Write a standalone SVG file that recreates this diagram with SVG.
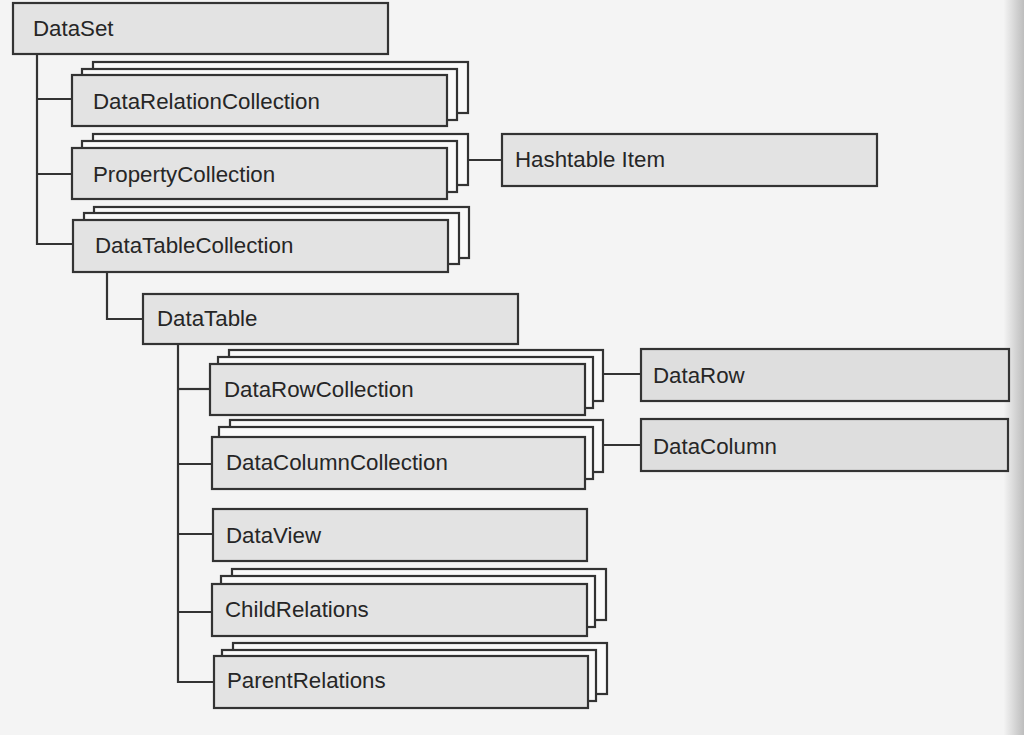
<svg xmlns="http://www.w3.org/2000/svg" width="1024" height="735" viewBox="0 0 1024 735">
  <defs>
    <linearGradient id="edge" x1="0" y1="0" x2="1" y2="0">
      <stop offset="0" stop-color="#f3f3f3"/>
      <stop offset="1" stop-color="#bdbdbd"/>
    </linearGradient>
    <style>
      .front { fill: #e3e3e3; stroke: #333; stroke-width: 2.2; }
      .leaf { fill: #dedede; stroke: #333; stroke-width: 2.2; }
      .back { fill: #fafafa; stroke: #333; stroke-width: 2.2; }
      .lbl { font-family: "Liberation Sans", Arial, sans-serif; font-size: 22.3px; fill: #262626; }
      .conn line, .conn polyline { fill: none; stroke: #333; stroke-width: 2.2; }
    </style>
  </defs>
  <rect x="0" y="0" width="1024" height="735" fill="#f4f4f4"/>
  <rect x="1004" y="0" width="20" height="735" fill="url(#edge)"/>

  <g id="connectors" class="conn">
    <polyline points="37,54 37,244 73,244"/>
    <line x1="37" y1="99" x2="72" y2="99"/>
    <line x1="37" y1="174" x2="72" y2="174"/>
    <line x1="467" y1="160" x2="502" y2="160"/>
    <polyline points="107,272 107,319 143,319"/>
    <polyline points="178,344 178,682 214,682"/>
    <line x1="178" y1="389" x2="210" y2="389"/>
    <line x1="178" y1="464" x2="212" y2="464"/>
    <line x1="178" y1="534" x2="213" y2="534"/>
    <line x1="178" y1="612" x2="212" y2="612"/>
    <line x1="603" y1="374" x2="641" y2="374"/>
    <line x1="603" y1="445" x2="641" y2="445"/>
  </g>

  <g id="DataSet">
    <rect class="front" x="13" y="3" width="375" height="51"/>
    <text class="lbl" x="33" y="36">DataSet</text>
  </g>

  <g id="DataRelationCollection">
    <rect class="back" x="93" y="62" width="375" height="51"/>
    <rect class="back" x="82" y="69" width="375" height="51"/>
    <rect class="front" x="72" y="75" width="375" height="51"/>
    <text class="lbl" x="93" y="109">DataRelationCollection</text>
  </g>

  <g id="PropertyCollection">
    <rect class="back" x="93" y="134" width="375" height="51"/>
    <rect class="back" x="82" y="141" width="375" height="51"/>
    <rect class="front" x="72" y="148" width="375" height="51"/>
    <text class="lbl" x="93" y="182">PropertyCollection</text>
  </g>

  <g id="HashtableItem">
    <rect class="front" x="502" y="134" width="375" height="52"/>
    <text class="lbl" x="515" y="167">Hashtable Item</text>
  </g>

  <g id="DataTableCollection">
    <rect class="back" x="94" y="207" width="375" height="51"/>
    <rect class="back" x="84" y="213" width="375" height="51"/>
    <rect class="front" x="73" y="220" width="375" height="52"/>
    <text class="lbl" x="95" y="253">DataTableCollection</text>
  </g>

  <g id="DataTable">
    <rect class="front" x="143" y="294" width="375" height="50"/>
    <text class="lbl" x="157" y="326">DataTable</text>
  </g>

  <g id="DataRowCollection">
    <rect class="back" x="229" y="350" width="374" height="51"/>
    <rect class="back" x="218" y="357" width="375" height="51"/>
    <rect class="front" x="210" y="364" width="375" height="51"/>
    <text class="lbl" x="224" y="397">DataRowCollection</text>
  </g>

  <g id="DataRow">
    <rect class="leaf" x="641" y="349" width="368" height="52"/>
    <text class="lbl" x="653" y="383">DataRow</text>
  </g>

  <g id="DataColumnCollection">
    <rect class="back" x="230" y="420" width="373" height="52"/>
    <rect class="back" x="219" y="427" width="374" height="52"/>
    <rect class="front" x="212" y="437" width="373" height="52"/>
    <text class="lbl" x="226" y="470">DataColumnCollection</text>
  </g>

  <g id="DataColumn">
    <rect class="leaf" x="641" y="419" width="367" height="52"/>
    <text class="lbl" x="653" y="454">DataColumn</text>
  </g>

  <g id="DataView">
    <rect class="front" x="213" y="509" width="374" height="52"/>
    <text class="lbl" x="226" y="543">DataView</text>
  </g>

  <g id="ChildRelations">
    <rect class="back" x="232" y="569" width="374" height="51"/>
    <rect class="back" x="221" y="576" width="374" height="51"/>
    <rect class="front" x="212" y="584" width="375" height="52"/>
    <text class="lbl" x="225" y="617">ChildRelations</text>
  </g>

  <g id="ParentRelations">
    <rect class="back" x="233" y="643" width="374" height="51"/>
    <rect class="back" x="222" y="650" width="374" height="51"/>
    <rect class="front" x="214" y="656" width="374" height="52"/>
    <text class="lbl" x="227" y="688">ParentRelations</text>
  </g>
</svg>
